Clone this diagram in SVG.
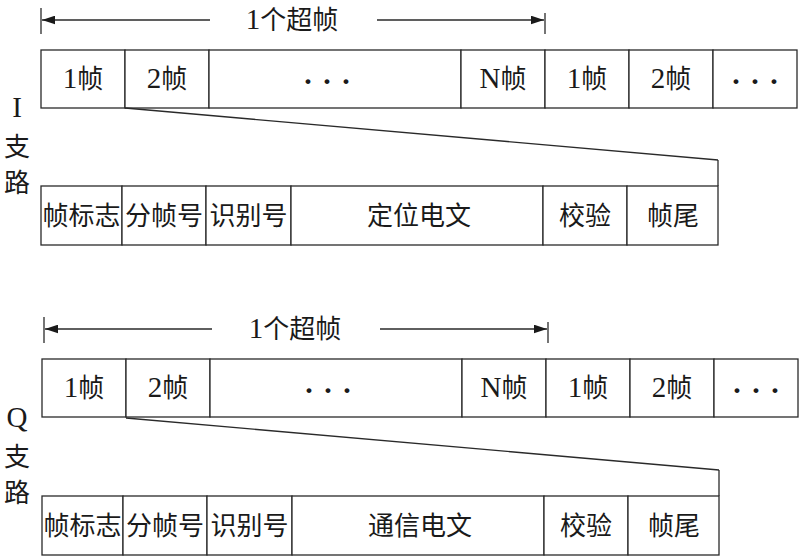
<svg xmlns="http://www.w3.org/2000/svg" width="800" height="558" viewBox="0 0 800 558">
<defs>
<marker id="ah" viewBox="0 0 12 8" refX="12" refY="4" markerWidth="13" markerHeight="9" markerUnits="userSpaceOnUse" orient="auto-start-reverse">
<path d="M0,0 L12,4 L0,8 Z" fill="#1a1a1a"/>
</marker>
</defs>
<style>
rect.c{fill:#fff;stroke:#2a2a2a;stroke-width:1.3}
line.l{stroke:#2a2a2a;stroke-width:1.3}
text{font-family:"Liberation Serif","Noto Sans CJK SC",serif;font-size:26px;fill:#1a1a1a;text-anchor:middle}
tspan.n{font-size:29px}
text.d{font-size:30px;font-weight:bold}
</style>
<rect width="800" height="558" fill="#fff"/>

<!-- ===== I branch ===== -->
<g id="I-label">
<text x="17" y="117" style="font-size:29px">I</text>
<text x="17" y="156">支</text>
<text x="17" y="192">路</text>
</g>
<g id="I-superframe-label"><text x="292" y="29"><tspan class="n">1</tspan>个超帧</text></g>
<g id="I-top-row">
<g id="I-f1"><rect class="c" x="41" y="50" width="84" height="58"/><text x="83" y="88"><tspan class="n">1</tspan>帧</text></g>
<g id="I-f2"><rect class="c" x="125" y="50" width="84" height="58"/><text x="167" y="88"><tspan class="n">2</tspan>帧</text></g>
<g id="I-fdots"><rect class="c" x="209" y="50" width="252" height="58"/><text class="d" x="308 327 346" y="91">···</text></g>
<g id="I-fN"><rect class="c" x="461" y="50" width="84" height="58"/><text x="503" y="88"><tspan class="n">N</tspan>帧</text></g>
<g id="I-f1b"><rect class="c" x="545" y="50" width="84" height="58"/><text x="587" y="88"><tspan class="n">1</tspan>帧</text></g>
<g id="I-f2b"><rect class="c" x="629" y="50" width="84" height="58"/><text x="671" y="88"><tspan class="n">2</tspan>帧</text></g>
<g id="I-fdots2"><rect class="c" x="713" y="50" width="84" height="58"/><text class="d" x="736 755 774" y="91">···</text></g>
</g>
<g id="I-bottom-row">
<g id="I-b1"><rect class="c" x="41" y="186" width="81" height="59"/><text x="81.5" y="225">帧标志</text></g>
<g id="I-b2"><rect class="c" x="122" y="186" width="84" height="59"/><text x="164" y="225">分帧号</text></g>
<g id="I-b3"><rect class="c" x="206" y="186" width="85" height="59"/><text x="248.5" y="225">识别号</text></g>
<g id="I-b4"><rect class="c" x="291" y="186" width="252" height="59"/><text x="419" y="225">定位电文</text></g>
<g id="I-b5"><rect class="c" x="543" y="186" width="84" height="59"/><text x="585" y="225">校验</text></g>
<g id="I-b6"><rect class="c" x="627" y="186" width="91" height="59"/><text x="673" y="225">帧尾</text></g>
</g>

<!-- ===== Q branch ===== -->
<g id="Q-label">
<text x="17" y="427" style="font-size:29px">Q</text>
<text x="17" y="466">支</text>
<text x="17" y="502">路</text>
</g>
<g id="Q-superframe-label"><text x="295" y="338"><tspan class="n">1</tspan>个超帧</text></g>
<g id="Q-top-row" transform="translate(1,309)">
<g id="Q-f1"><rect class="c" x="41" y="50" width="84" height="58"/><text x="83" y="88"><tspan class="n">1</tspan>帧</text></g>
<g id="Q-f2"><rect class="c" x="125" y="50" width="84" height="58"/><text x="167" y="88"><tspan class="n">2</tspan>帧</text></g>
<g id="Q-fdots"><rect class="c" x="209" y="50" width="252" height="58"/><text class="d" x="308 327 346" y="91">···</text></g>
<g id="Q-fN"><rect class="c" x="461" y="50" width="84" height="58"/><text x="503" y="88"><tspan class="n">N</tspan>帧</text></g>
<g id="Q-f1b"><rect class="c" x="545" y="50" width="84" height="58"/><text x="587" y="88"><tspan class="n">1</tspan>帧</text></g>
<g id="Q-f2b"><rect class="c" x="629" y="50" width="84" height="58"/><text x="671" y="88"><tspan class="n">2</tspan>帧</text></g>
<g id="Q-fdots2"><rect class="c" x="713" y="50" width="84" height="58"/><text class="d" x="736 755 774" y="91">···</text></g>
</g>
<g id="Q-bottom-row" transform="translate(1,310)">
<g id="Q-b1"><rect class="c" x="41" y="186" width="81" height="59"/><text x="81.5" y="225">帧标志</text></g>
<g id="Q-b2"><rect class="c" x="122" y="186" width="84" height="59"/><text x="164" y="225">分帧号</text></g>
<g id="Q-b3"><rect class="c" x="206" y="186" width="85" height="59"/><text x="248.5" y="225">识别号</text></g>
<g id="Q-b4"><rect class="c" x="291" y="186" width="252" height="59"/><text x="419" y="225">通信电文</text></g>
<g id="Q-b5"><rect class="c" x="543" y="186" width="84" height="59"/><text x="585" y="225">校验</text></g>
<g id="Q-b6"><rect class="c" x="627" y="186" width="91" height="59"/><text x="673" y="225">帧尾</text></g>
</g>

<g id="connectors">
<!-- I superframe arrow -->
<line class="l" x1="41" y1="8" x2="41" y2="34"/>
<line class="l" x1="545" y1="13" x2="545" y2="34"/>
<line class="l" x1="210" y1="20" x2="42" y2="20" marker-end="url(#ah)"/>
<line class="l" x1="377" y1="20" x2="544" y2="20" marker-end="url(#ah)"/>
<!-- I expansion -->
<line class="l" x1="125" y1="108" x2="718" y2="160"/>
<line class="l" x1="718" y1="160" x2="718" y2="186"/>
<!-- Q superframe arrow -->
<line class="l" x1="44" y1="317" x2="44" y2="343"/>
<line class="l" x1="548" y1="322" x2="548" y2="343"/>
<line class="l" x1="212" y1="329" x2="45" y2="329" marker-end="url(#ah)"/>
<line class="l" x1="380" y1="329" x2="547" y2="329" marker-end="url(#ah)"/>
<!-- Q expansion -->
<line class="l" x1="126" y1="418" x2="719" y2="470"/>
<line class="l" x1="719" y1="470" x2="719" y2="496"/>
</g>
</svg>
